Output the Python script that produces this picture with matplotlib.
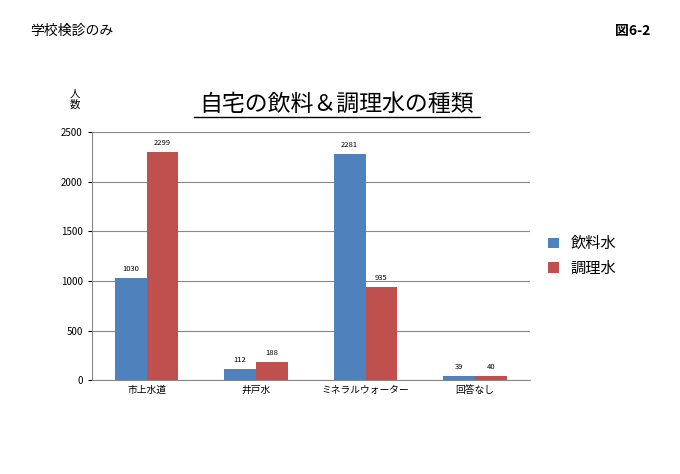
import numpy as np
import matplotlib.pyplot as plt

plt.rcParams['font.family'] = 'Noto Sans CJK JP'

categories = ['市上水道', '井戸水', 'ミネラルウォーター', '回答なし']
drinking = [1030, 112, 2281, 39]
cooking = [2299, 188, 935, 40]
series_names = ['飲料水', '調理水']

fig = plt.figure(figsize=(6.8, 4.74), dpi=100)
ax = fig.add_axes([0.135, 0.198, 0.644, 0.523])

x = np.arange(len(categories))
w = 0.29
b1 = ax.bar(x - w / 2, drinking, w, color='#4F81BD', label=series_names[0], zorder=3)
b2 = ax.bar(x + w / 2, cooking, w, color='#C0504D', label=series_names[1], zorder=3)
for bars in (b1, b2):
    for r in bars:
        ax.text(r.get_x() + r.get_width() / 2, r.get_height() + 50, str(int(r.get_height())),
                ha='center', va='bottom', fontsize=5.5)

ax.set_xlim(-0.5, len(categories) - 0.5)
ax.set_ylim(0, 2500)
ax.set_yticks(range(0, 2501, 500))
ax.set_xticks(x)
ax.set_xticklabels(categories, fontsize=7)
ax.tick_params(axis='y', labelsize=7, length=3)
ax.tick_params(axis='x', length=0)
ax.yaxis.grid(True, color='#888888', linewidth=0.8, zorder=0)
for s in ['top', 'right']:
    ax.spines[s].set_visible(False)
ax.spines['left'].set_color('#888888')
ax.spines['bottom'].set_color('#888888')

ax.legend(loc='center left', bbox_to_anchor=(1.01, 0.5), frameon=False, fontsize=11,
          handlelength=0.7, handleheight=0.7)

fig.text(0.044, 0.935, '学校検診のみ', fontsize=10, va='center')
fig.text(0.905, 0.935, '図6-2', fontsize=10, va='center', fontweight='bold')
fig.text(0.495, 0.78, '自宅の飲料＆調理水の種類', fontsize=16.5, ha='center', va='center')
fig.add_artist(plt.Line2D([0.285, 0.706], [0.753, 0.753], color='black', linewidth=1))
fig.text(0.11, 0.79, '人\n数', fontsize=7.5, ha='center', va='center', linespacing=1.1)

fig.savefig('out.png', dpi=100)
